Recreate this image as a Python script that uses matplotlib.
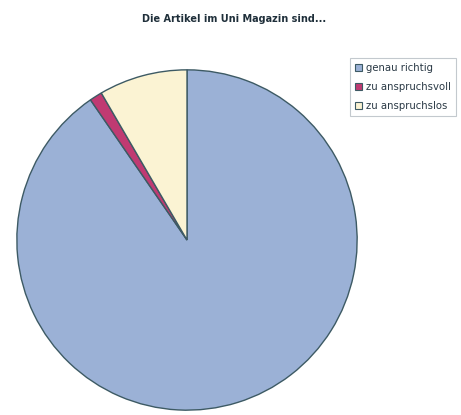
import matplotlib
matplotlib.use("Agg")
import matplotlib.pyplot as plt
from matplotlib.patches import Patch

labels = ["genau richtig", "zu anspruchsvoll", "zu anspruchslos"]
values = [90.4, 1.2, 8.4]
colors = ["#9bb1d6", "#c03a72", "#fbf3d3"]
title = "Die Artikel im Uni Magazin sind..."

fig = plt.figure(figsize=(4.61, 4.15), dpi=100)
W, H = 461, 415
cx, cy, r = 187, 240, 171
ax = fig.add_axes([(cx - r) / W, (H - cy - r) / H, 2 * r / W, 2 * r / H])
ax.pie(values, colors=colors, startangle=90, counterclock=False,
       wedgeprops=dict(edgecolor="#3d5a64", linewidth=1.0))
ax.set_xlim(-1.005, 1.005)
ax.set_ylim(-1.005, 1.005)
ax.set_aspect("equal")
ax.axis("off")

fig.text(234 / W, 1 - 19 / H, title, ha="center", va="center",
         fontsize=7, fontweight="bold", color="#1f2f3a")

handles = [Patch(facecolor=c, edgecolor="#3d5a64", linewidth=0.8) for c in colors]
leg = fig.legend(handles, labels, loc="upper left",
                 bbox_to_anchor=(350 / W, 1 - 58 / H), fontsize=7.3,
                 frameon=True, fancybox=False, handlelength=0.7, handleheight=0.7,
                 handletextpad=0.4, borderpad=0.5, borderaxespad=0,
                 labelspacing=0.9)
leg.get_frame().set_edgecolor("#b4bcc2")
leg.get_frame().set_linewidth(0.8)
for t in leg.get_texts():
    t.set_color("#2a3945")

fig.savefig("out.png", dpi=100)
